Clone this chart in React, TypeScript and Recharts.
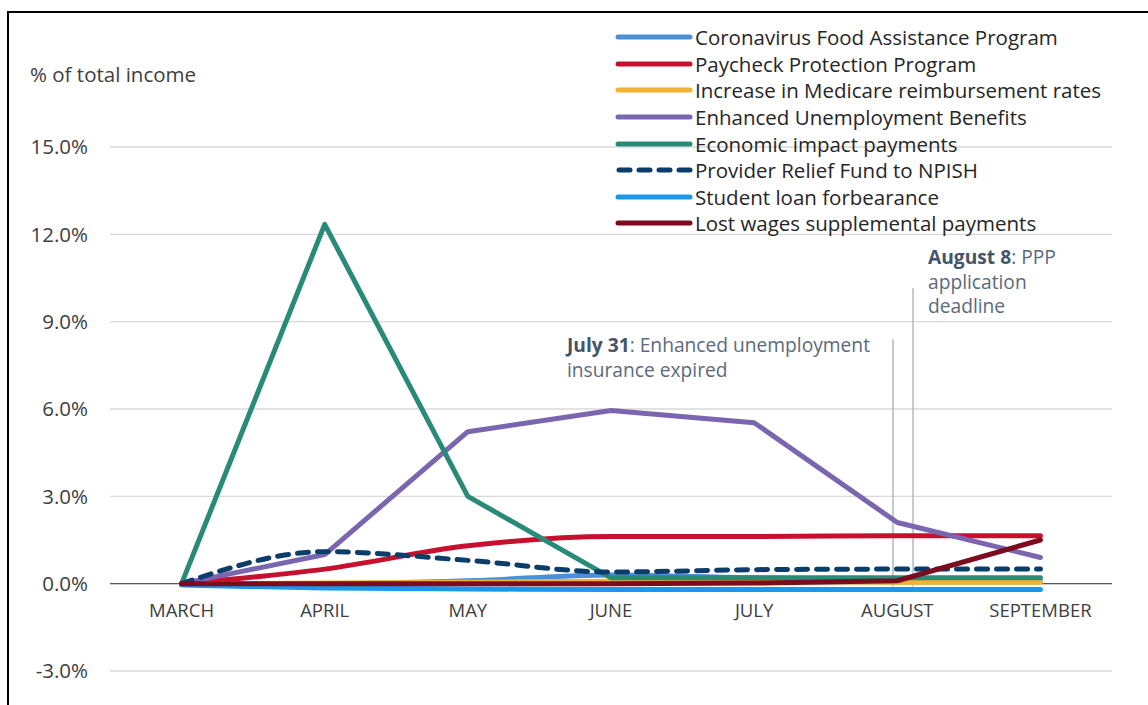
import { LineChart, Line, XAxis, YAxis, CartesianGrid, ReferenceLine, ReferenceDot } from 'recharts';

// months on the x axis (numeric index so the annotation lines can sit between months)
const months = ['MARCH', 'APRIL', 'MAY', 'JUNE', 'JULY', 'AUGUST', 'SEPTEMBER'];

// % of total income
const foodAssistance = [0, 0, 0.1, 0.3, 0.2, 0.15, 0.1];
const paycheckProtection = [0, 0.5, 1.3, 1.62, 1.62, 1.65, 1.65];
const medicareIncrease = [0, 0.02, 0.05, 0.08, 0.08, 0.05, 0.05];
const unemploymentBenefits = [0, 1.0, 5.22, 5.95, 5.53, 2.1, 0.9];
const economicImpact = [0, 12.34, 3.0, 0.2, 0.2, 0.2, 0.2];
const providerRelief = [0, 1.1, 0.8, 0.4, 0.48, 0.5, 0.5];
const studentLoan = [-0.05, -0.15, -0.18, -0.2, -0.2, -0.2, -0.2];
const lostWages = [0, 0, 0, 0, 0.02, 0.1, 1.5];

const yTicks = [-3, 0, 3, 6, 9, 12, 15];

// annotation dates as fractional month index
const july31 = 4.97;
const august8 = 5.11;

const series = [
  { key: 'food', name: 'Coronavirus Food Assistance Program', color: '#4a8fd8', values: foodAssistance, curve: 'monotone', dashed: false },
  { key: 'ppp', name: 'Paycheck Protection Program', color: '#c8102e', values: paycheckProtection, curve: 'monotone', dashed: false },
  { key: 'medicare', name: 'Increase in Medicare reimbursement rates', color: '#f2b233', values: medicareIncrease, curve: 'monotone', dashed: false },
  { key: 'ui', name: 'Enhanced Unemployment Benefits', color: '#7a65b0', values: unemploymentBenefits, curve: 'linear', dashed: false },
  { key: 'eip', name: 'Economic impact payments', color: '#2a8a78', values: economicImpact, curve: 'linear', dashed: false },
  { key: 'provider', name: 'Provider Relief Fund to NPISH', color: '#0c3c69', values: providerRelief, curve: 'monotone', dashed: true },
  { key: 'student', name: 'Student loan forbearance', color: '#1a98ee', values: studentLoan, curve: 'monotone', dashed: false },
  { key: 'lost', name: 'Lost wages supplemental payments', color: '#7b0b1d', values: lostWages, curve: 'linear', dashed: false },
];

const data = months.map((m, i) => {
  const row: any = { idx: i, month: m };
  series.forEach((s) => (row[s.key] = s.values[i]));
  return row;
});

const font = '"Open Sans", sans-serif';

export default function App() {
  return (
    <div style={{ position: 'absolute', left: 0, top: 0, width: 1148, height: 705, background: '#fff', overflow: 'hidden', fontFamily: font }}>
      <div style={{ position: 'absolute', left: 7, top: 11, width: 1200, height: 800, borderLeft: '2px solid #000', borderTop: '2px solid #000' }} />

      <LineChart width={1148} height={705} data={data} margin={{ top: 147, right: 36, bottom: 34, left: 0 }}>
        <CartesianGrid vertical={false} stroke="#d9d9d9" strokeWidth={1.3} />
        <XAxis dataKey="idx" type="number" domain={[-0.5, 6.5]} hide />
        <YAxis
          domain={[-3, 15]}
          ticks={yTicks}
          width={110}
          axisLine={false}
          tickLine={false}
          tickSize={0}
          tickMargin={22}
          tick={{ fill: '#404040', fontSize: 20.5, fontFamily: font }}
          tickFormatter={(v: number) => `${v.toFixed(1)}%`}
        />
        <ReferenceLine y={0} stroke="#595959" strokeWidth={1.3} />
        {months.map((m, i) => (
          <ReferenceDot
            key={m}
            x={i}
            y={0}
            r={0}
            fill="none"
            stroke="none"
            ifOverflow="visible"
            label={{ value: m, position: 'bottom', offset: 20, fill: '#404040', fontSize: 18.5, fontFamily: font }}
          />
        ))}
        <ReferenceLine
          segment={[{ x: july31, y: -0.1 }, { x: july31, y: 8.4 }]}
          stroke="#a7bccb"
          strokeWidth={1.5}
          ifOverflow="visible"
        />
        <ReferenceLine
          segment={[{ x: august8, y: -0.1 }, { x: august8, y: 10.15 }]}
          stroke="#a7bccb"
          strokeWidth={1.5}
          ifOverflow="visible"
        />
        {series.map((s) => (
          <Line
            key={s.key}
            type={s.curve as any}
            dataKey={s.key}
            name={s.name}
            stroke={s.color}
            strokeWidth={5}
            strokeDasharray={s.dashed ? '11 9' : undefined}
            strokeLinecap="round"
            strokeLinejoin="round"
            dot={false}
            activeDot={false}
            isAnimationActive={false}
          />
        ))}
      </LineChart>

      <div style={{ position: 'absolute', left: 30, top: 59, fontSize: 20.5, lineHeight: '30px', color: '#404040' }}>% of total income</div>

      <div style={{ position: 'absolute', left: 615, top: 24 }}>
        {series.map((s) => (
          <div key={s.key} style={{ display: 'flex', alignItems: 'center', height: 26.6 }}>
            <svg width={80} height={10} style={{ flex: 'none' }}>
              <line
                x1={s.dashed ? 4 : 3}
                y1={5}
                x2={s.dashed ? 76 : 75}
                y2={5}
                stroke={s.color}
                strokeWidth={5}
                strokeLinecap="round"
                strokeDasharray={s.dashed ? '11 9' : undefined}
              />
            </svg>
            <span style={{ fontSize: 20.5, lineHeight: '26px', color: '#262626', whiteSpace: 'nowrap' }}>{s.name}</span>
          </div>
        ))}
      </div>

      <div style={{ position: 'absolute', left: 567, top: 333, fontSize: 19.2, lineHeight: '24.6px', color: '#5a6a7c' }}>
        <span style={{ fontWeight: 700, color: '#44546a' }}>July 31</span>: Enhanced unemployment
        <br />
        insurance expired
      </div>
      <div style={{ position: 'absolute', left: 928, top: 245, fontSize: 19.2, lineHeight: '24.6px', color: '#5a6a7c' }}>
        <span style={{ fontWeight: 700, color: '#44546a' }}>August 8</span>: PPP
        <br />
        application
        <br />
        deadline
      </div>
    </div>
  );
}
